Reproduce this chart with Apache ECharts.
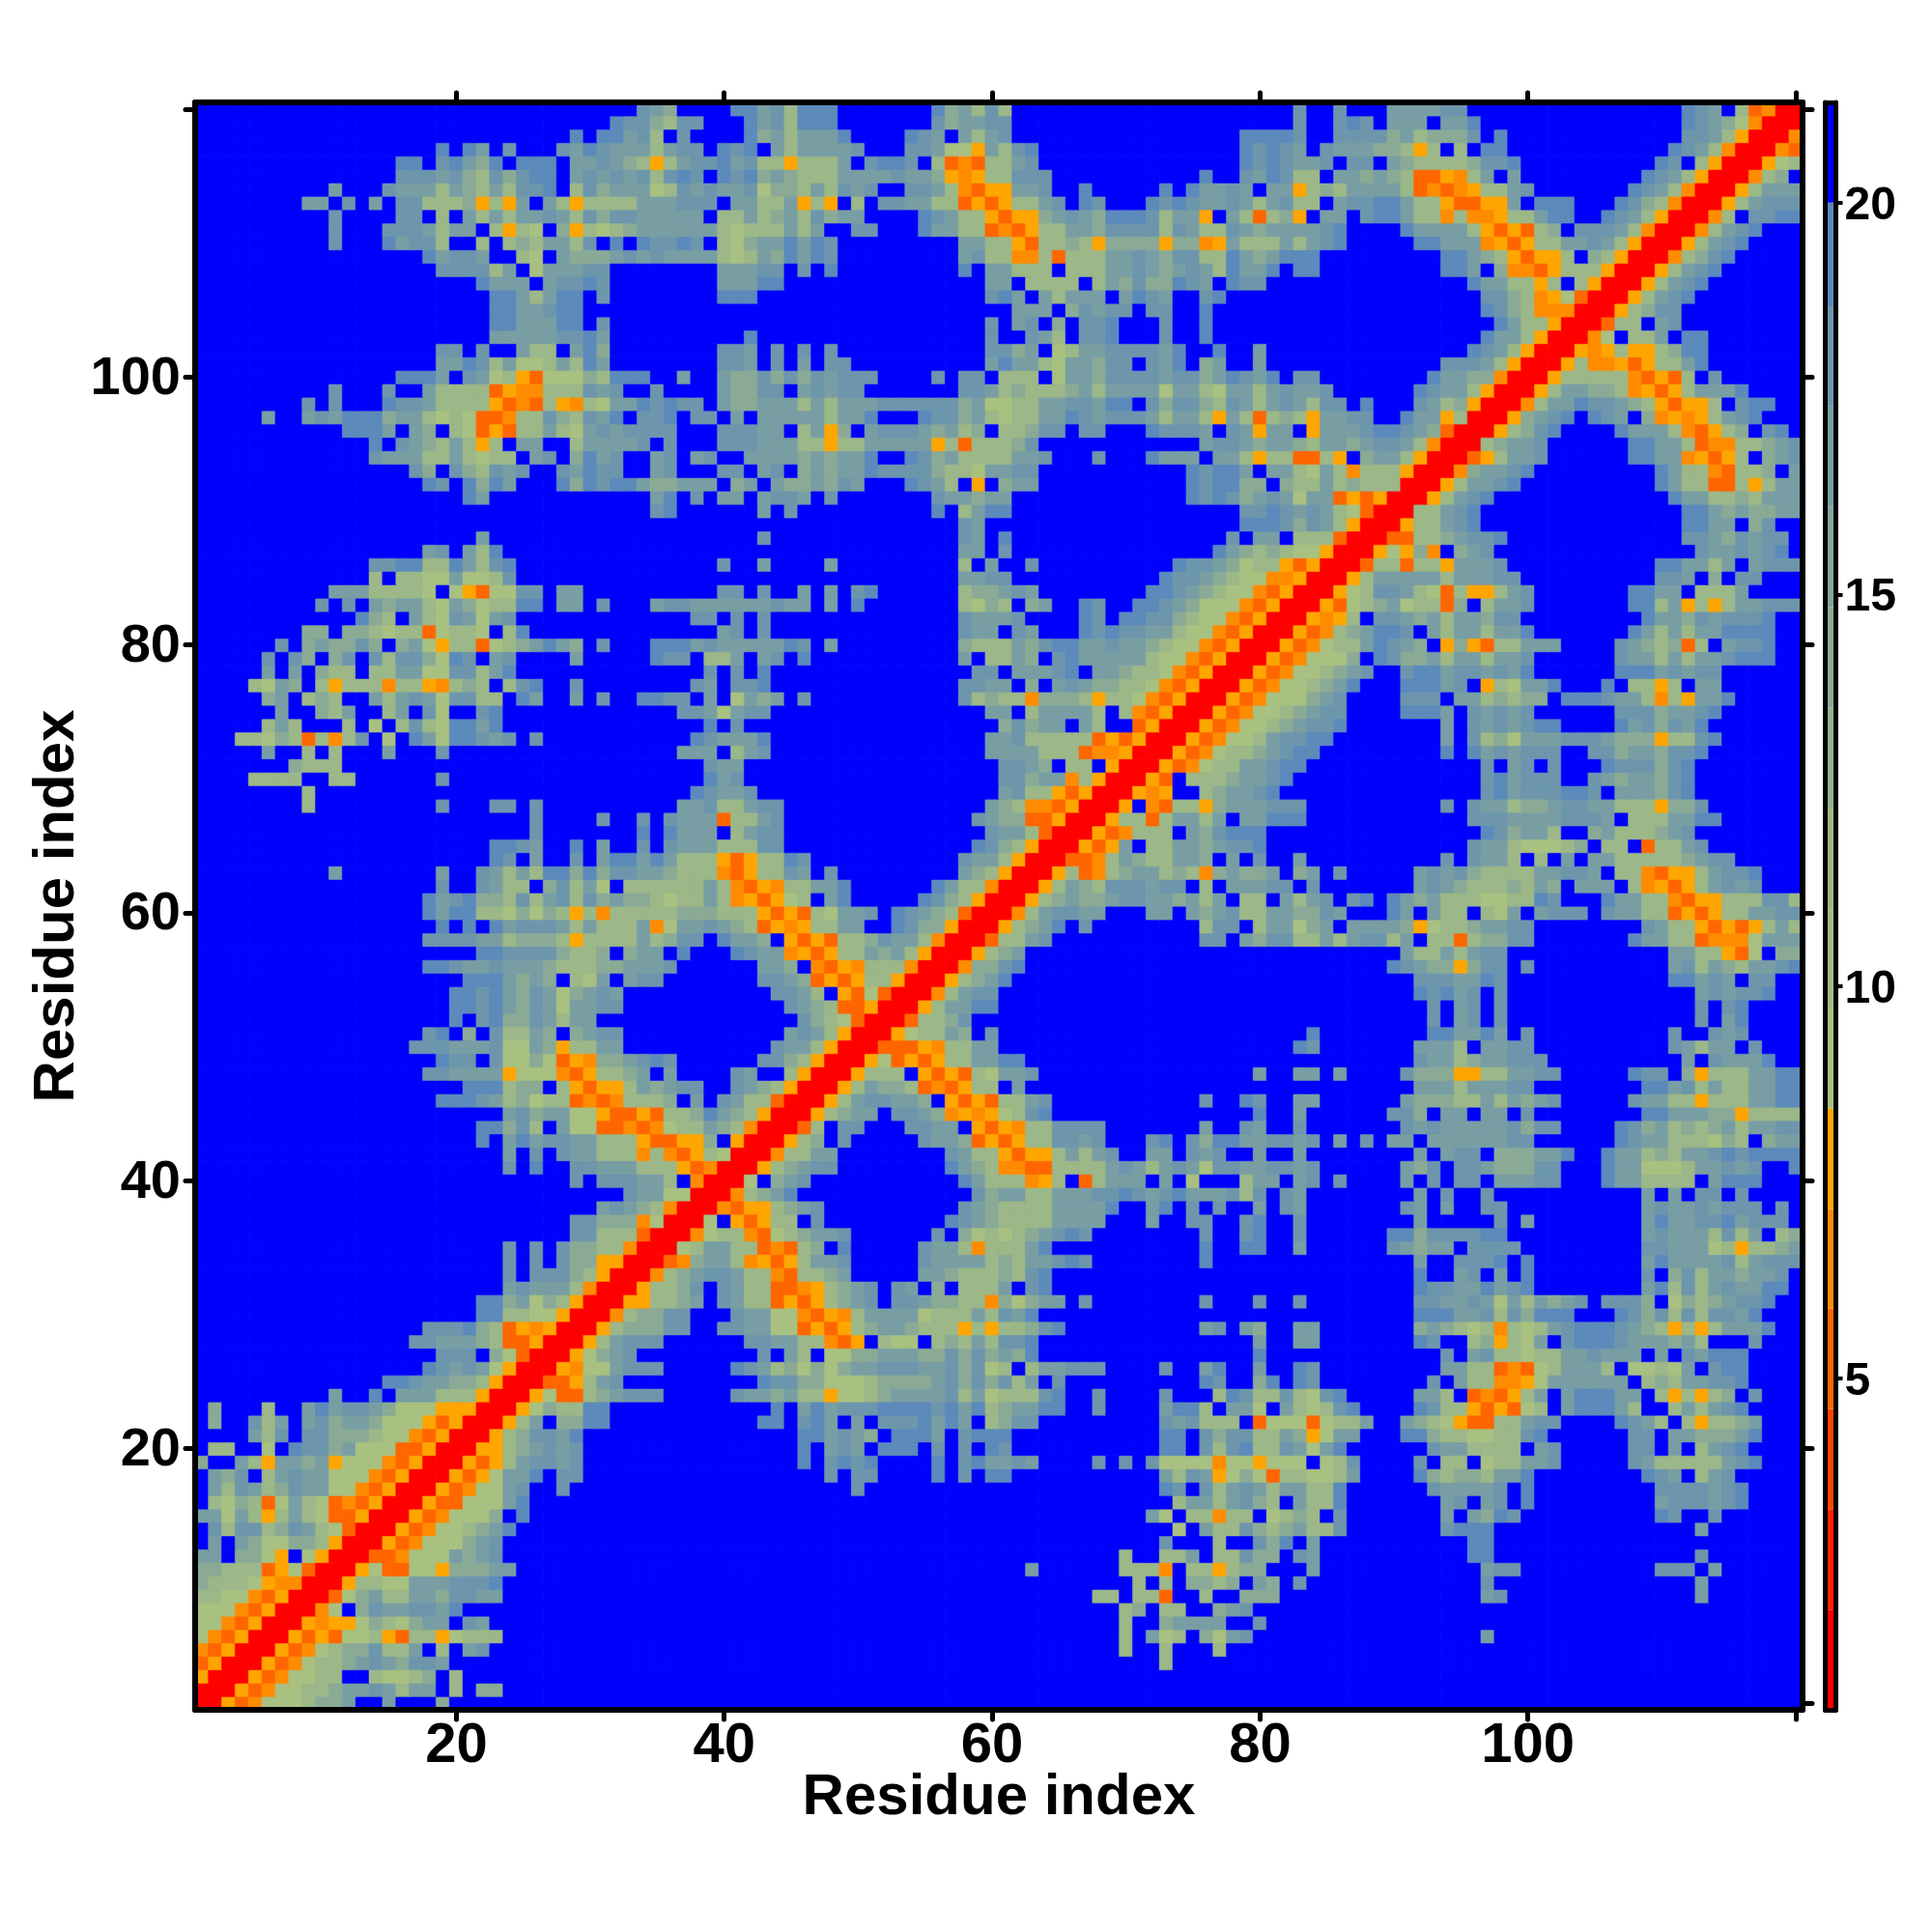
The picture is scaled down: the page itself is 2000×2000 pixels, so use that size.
<!DOCTYPE html>
<html><head><meta charset="utf-8">
<style>html,body{margin:0;padding:0;background:#fff}#c{width:2000px;height:2000px}</style>
<script src="https://cdn.jsdelivr.net/npm/echarts@6/dist/echarts.min.js"></script>
</head><body><div id="c"></div>
<script>
// Colour scale of the reference: 16 steps between these breaks
const levelBreaks=[0.77,2.05,3.33,4.61,5.89,7.16,8.44,9.72,11.0,12.28,13.56,14.84,16.12,17.4,18.68,20.0,21.28];
const levelColors=['#ff0000','#ff2000','#ff4400','#ff6600','#ff8c00','#ffa500','#a8c080','#a3bc84','#9cb788','#94b28e','#8aaa96','#82a59c','#789ea4','#6d96ad','#5c8abb','#0000ff'];
// Reading codes used in the rows below -> colour step
const readingCodes=['0','3','4','5','7','8','9','a','b','c','f'];
const readingSteps=[0,3,4,5,6,8,10,12,13,14,15];
const residues=Array.from({length:120},(_,i)=>String(i+1));
const colorTicks=[5,10,15,20];
const axisTitle='Residue index';
// One string per row (y=1..120): "firstX:codes firstX:codes", upper triangle; unlisted cells are blue
const contactRows=[
"1:00534777899a 15:a 19:9",
"2:0053477889aaba8aa 20:8 22:99",
"3:005347788 14:87789 20:8",
"4:005347889aba9bba 73:8",
"5:005347899b88af8fab 70:8 73:8 77:8",
"6:005353778538857888 70:8 72:a78 76:97ab 97:a",
"7:00545579879aafba 70:8 73:9aaaa 80:b",
"8:0047f9baabbac 70:89 73:88 77:9ab",
"9:00379a88aa9bbaa 68:88 71:883 76:8 79:999 97:ab 113:a",
"10:0058877aaabbbc 71:8 73:8 75:9989 80:a9 83:b 97:b 113:a",
"11:005733775999aa 63:a 70:8884 75:885899 84:a 97:abb 110:bbb 114:a",
"12:00334777a9ab 70:8 73:88a 77:88b99 83:ba 96:cc 113:b",
"13:005347779ab 73:b 77:8 80:b9c 84:a 96:cc",
"14:005347789ac 74:7 76:a88b989a88b 94:bccc 113:a",
"15:005347779fc 72:a7f884 78:88f7898fb 94:afa9cb 110:cb 114:b",
"16:00533777ac 74:8aa8ab98fa88c 94:abfabfc 110:abbbabc",
"17:0053477ab 28:b 50:b 73:cbfb8aba8aa88c 93:baaaabfc 110:bbbbabc",
"18:005357aacfbb 48:b 50:bb 56:c 58:b 60:cc 73:a8ba5797388778a 92:c98998aac 109:cbaf8ab",
"19:005358abbab 46:c 48:bcbc 56:c 58:bc 60:aaba 68:b 70:b 72:b77774775777f78b 92:bf88f788aab 108:ba88888abc",
"20:005589abab 46:c 48:aba 52:ccc 56:b 58:b 60:cb 73:ccfb8bc88ba7ac 93:baa8888fab 108:bbfaf8abc",
"21:00589bbac 46:cc 48:aba9 53:ccca 58:bccc 73:ccfb9bb88a957aa 91:cc9887788bc 108:bbfaa999ac",
"22:0058af99cc 43:cc 46:bcafafbbbcacaf89bb 73:bab888f37773788a 91:a98753388abb 107:cba8f85889a",
"23:0057988cc 44:c 46:acabbbccccbcac89aacc 68:b 73:acc8faa7fa878bc 92:cb88535378faccca8ff8a8abc",
"24:00573389abbb 41:baa9a8857789aaaab8a7888bc 68:b 73:b 77:8cb88b87bc 92:aa8f34358afacccaaf858589 117:b",
"25:003358ab 43:cbb9977789999ab9b9b8afb 76:cb 80:9c 83:cb 93:bfa884457aaaaaaf898aabbc",
"26:005477abbb 41:cba897979aabbbaab9b78f8aabbb 73:b 76:ac 80:a 83:cb 94:aa8834378aaa8f7787afbcc",
"27:00579ab 43:bfa8f7799aaa99b9b9a9c 80:c 94:bfab88788aabaaafafbaccc",
"28:0058abbb 42:bbaa88435f877f898a8bbc 80:a 83:aa 92:cb 96:89587afbcccbaaa9a8 117:b",
"29:0058999bb 40:bbaa77353589aa9888585889bc 76:ab 79:a9 83:aa 92:9a98784878abcccba985858aaac",
"30:004899bb 41:baa7743548aaaa7888a8bac 92:cccaab8b9ccc 107:cb9b8b8bbac",
"31:0055889afba88353589abfbba99884979aa 67:b 76:b 80:b 83:b 92:bbaaba7a8a9ab 106:bbb9f7989abbc",
"32:005889bfba88334589abfbaf9f888afbc 92:cbbaacabc 109:ac8b8abaacc",
"33:00489abba8843889a 55:aa988898bc 92:c 95:ab 98:a 100:c 109:b 111:9b8aa9aab",
"34:00349aa845358aab 55:baaaa898aabcb 76:c 92:a 95:bbbc 100:c 109:acaaaab8abbb",
"35:0078aa8834389fc 55:baa84888ac 76:c 79:cc 83:a 90:ba9aafbbbb 109:bbaaa785889a",
"36:00478843789aab 56:bf978789abcb 76:b 79:bc 83:b 90:cc9bbbbcc 109:abaaa8b8af89",
"37:007f53588fb 57:cba98888aaaa 72:a 75:bb 79:bc 83:b 92:a 98:b 100:a 109:acaabbcabbb",
"38:00435589ab 58:ba98888aaaac 72:ac 75:bfb 80:a 82:ba 91:bafa 97:bb 109:abaababbbfb",
"39:00489ac 59:b9aa88aaabbcbabcaaab8b 82:ba 92:a 94:b 97:b 109:afafbbfb",
"40:007f9ab 58:ca888458f38aaafaf7 79:8aafabfb 91:afbfbbfaaabb 106:caa8888faccc",
"41:00589abb 57:ca9844338888aba8aba7bbaabbab 91:a9bfbba999bb 106:caa7778aabab 120:c",
"42:00488aa 57:ba8853558a8ab 72:aa 75:bab 80:a 83:a 92:afabbf999aac 106:caa898aabcbcccc",
"43:00589fb 55:baa9353588bbab 72:bcfb9ccaabbabfa 88:b 90:aa 93:aaaaaabb 107:cbaa888798f9aa",
"44:0038fbb 54:bbaaf535488bbbb 76:a 79:ba 83:b 91:babaaaaab9bb 107:cb9a8989a8aabb",
"45:00589aa 53:bba9454578bc 80:c 83:a 90:bb9faafaafb 109:ccaaa9958888",
"46:0058abbaa9f535388ab 76:b 79:cb 83:aa 91:a99988a8a9ab 108:baa885888aacc",
"47:0058a998343588fa 92:aaa8aaabb 109:ccab8a88aacc",
"48:005888f535387aab 80:a 83:aa 86:a 91:b9995588aabb 108:cbbf95888aacc",
"49:0057353588aacc 92:baa89aabbb 112:afbaaac",
"50:003335488aaf 83:cb 92:aaa8faabb 111:ba8aafb",
"51:005788a9fb 84:c 93:ccaacafb 111:b 114:bab",
"52:003889b 93:bfabfb 113:bfac",
"53:0058aacc 93:bfabfb 113:bfbc",
"54:0048abb 92:cbcabfb 113:ababbc",
"55:00589ac 92:bbbaacb 111:ccabafbb",
"56:00499bc 90:cba9959bbfb 111:ab8a98aabc",
"57:00589a 91:a88a8abb 111:aa88537f99",
"58:00388ab 76:bb 79:a9bb88a8abb8 91:af883899bb 108:caa8834447aaa",
"59:00589ac 67:b 76:8bbf8aa79afaaaa 91:957889aabb 109:ba88535358a8",
"60:0048abbaa 72:aafa9ab88aa99ba 90:c 91:afa88f87afabbb 106:baa88353588aabb",
"61:00589a99abbaa9a8af88fa8abfbcfca 92:9a8887788cb 106:caa884355888bb8",
"62:0058a98bbbabbf8faaabbfb 92:aba988898a9faaaf845358abab",
"63:00583489aa89849a99af9a 86:b 92:abab98888aabbaf8843558abbc",
"64:003348a988aa9fafb 83:a 94:bfbaa8f8fafaa888889abb",
"65:00535af88aa9abbc 96:baa877789f88f388ab",
"66:00534888fa9bccc 97:cb9aa8ff9a8889ab",
"67:0058838aa8afaaccc 96:bbbaaaabbbaf888aacc",
"68:005f438859aaabbb 94:b 96:baa899abbaa888599b",
"69:00545ff89aabc 97:bcabbbccbfaaa9bc",
"70:0053f8889aabc 97:bcabbbffba9aa9bc",
"71:00534788aabcc 97:bfabfbfffcbbb9bc",
"72:005347889abcc 94:c 96:cababbbffbb9aa9bbc",
"73:00534778abbcc 94:a 96:b897aaabbba999588bc",
"74:005347789abbc 94:a 96:bababcc 107:cab9bac",
"75:005347789abb 91:cccafbabab 107:bbb9aabc",
"76:005347779ab 91:bbbfaa89899fcccbaa8485aac",
"77:005347789ac 91:cccabf587aac 106:cf8858faa",
"78:005347789ab 91:bccabbabac 107:cccababb",
"79:005347779fcb 91:99a8aa8aab 107:baa8a8aabccc",
"80:00534788acb 91:a9f595388aaa 107:ba98938fabbc",
"81:0053489acc 91:bfa8aa8aac 108:ca8a8aacccc",
"82:005458fbb 91:a9a8aa9bbf 109:caa9babbbc",
"83:0053789a 91:78839f8aab 108:cc8a5858aabbb",
"84:00578bb 91:a8738558ab 108:ccaaf888af",
"85:0058aa 91:aaa8aaabb 110:bbaf9fbb",
"86:00388 91:3885aaab 110:ccaa8afabbb",
"87:0057 91:594f9ab 113:baababc",
"88:003 91:3889abbc 112:bba9babb",
"89:00588abc 112:ccaaf9b",
"90:0088abc 112:cca9a99aa",
"91:0058abc 111:caa8898aaa",
"92:0058aabc 110:ca8833858aa",
"93:0049aabc 110:ca8843889fa",
"94:00358aab 108:ccaa45358f9ab",
"95:0089aab 108:ccaa8344889ab",
"96:00589bc 107:caaa843589fbc",
"97:0059abc 105:cbaf945458abc",
"98:0048aacbba9853558fbcc",
"99:0058aa99845358aaac",
"100:0058888843538fb",
"101:00584453588ac",
"102:0054585589cc",
"103:0047f88afcc",
"104:00388fab",
"105:00589bb",
"106:0058abc",
"107:0058abc",
"108:0058abc",
"109:00489bc",
"110:0058abc",
"111:0048abc",
"112:0048fbbcc",
"113:0058abbb",
"114:0058aaa",
"115:00489f",
"116:00578",
"117:0043",
"118:004",
"119:00",
"120:0"
];

function stepValue(s){return (levelBreaks[s]+levelBreaks[s+1])/2;}
const cells=residues.map(()=>residues.map(()=>15));
contactRows.forEach((row,r)=>{
  row.trim().split(/\s+/).forEach(seg=>{
    const [start,codes]=seg.split(':');
    [...codes].forEach((ch,k)=>{
      const x=Number(start)-1+k; const idx=readingCodes.indexOf(ch);
      if(x<120&&idx>=0){cells[r][x]=readingSteps[idx];cells[x][r]=readingSteps[idx];}
    });
  });
});
const heatData=[];
for(let y=0;y<120;y++)for(let x=0;x<120;x++){
  const s=cells[y][x];
  // a hairline stroke in the cell's own colour closes the seams between cells
  heatData.push({value:[x,y,stepValue(s)],itemStyle:{borderColor:levelColors[s],borderWidth:0.5}});
}

const font='"Liberation Sans"';
const black='#000';
const every20=(i,v)=>Number(v)%20===0;
const labelled=(i,v)=>Number(v)%20===0&&Number(v)<120;
const frame={onZero:false,lineStyle:{color:black,width:6,cap:'round'}};
const tickStyle={show:true,alignWithLabel:true,length:10,interval:every20,lineStyle:{color:black,width:5,cap:'round'}};
const chart=echarts.init(document.getElementById('c'),null,{renderer:'canvas'});
const barSeries=levelColors.map((c,i)=>({
  type:'bar',xAxisIndex:2,yAxisIndex:2,stack:'scale',barWidth:'100%',silent:true,
  data:[i===0?levelBreaks[1]:levelBreaks[i+1]-levelBreaks[i]],itemStyle:{color:c},z:1
}));
chart.setOption({
  animation:false,
  backgroundColor:'#fff',
  grid:[
    {left:202,top:106,width:1664,height:1664},
    {left:1889.5,top:106,width:11,height:1664}
  ],
  visualMap:{show:false,type:'piecewise',dimension:2,seriesIndex:0,
    pieces:levelColors.map((c,i)=>({gte:levelBreaks[i],lt:levelBreaks[i+1],color:c}))},
  xAxis:[
    {type:'category',gridIndex:0,data:residues,position:'bottom',z:5,name:axisTitle,nameLocation:'middle',nameGap:61,nameMoveOverlap:false,
     nameTextStyle:{fontFamily:font,fontWeight:'bold',fontSize:60,color:black},
     axisLine:frame,axisTick:tickStyle,
     axisLabel:{interval:labelled,fontFamily:font,fontWeight:'bold',fontSize:58,color:black,margin:9},splitLine:{show:false}},
    {type:'category',gridIndex:0,data:residues,position:'top',z:5,axisLine:frame,axisTick:tickStyle,axisLabel:{show:false},splitLine:{show:false}},
    {type:'category',gridIndex:1,data:['scale'],position:'bottom',z:5,axisLine:{onZero:false,lineStyle:{color:black,width:5,cap:'round'}},axisTick:{show:false},axisLabel:{show:false}},
    {type:'category',gridIndex:1,data:['scale'],position:'top',z:5,axisLine:{onZero:false,lineStyle:{color:black,width:5,cap:'round'}},axisTick:{show:false},axisLabel:{show:false}}
  ],
  yAxis:[
    {type:'category',gridIndex:0,data:residues,position:'left',z:5,name:axisTitle,nameLocation:'middle',nameGap:113,nameRotate:90,nameMoveOverlap:false,
     nameTextStyle:{fontFamily:font,fontWeight:'bold',fontSize:60,color:black},
     axisLine:frame,axisTick:tickStyle,
     axisLabel:{interval:labelled,color:black,margin:15,formatter:v=>'{t|'+v+'}',
       rich:{t:{fontFamily:font,fontWeight:'bold',fontSize:56,color:black,padding:[4,0,0,0]}}},splitLine:{show:false}},
    {type:'category',gridIndex:0,data:residues,position:'right',z:5,axisLine:frame,
     axisTick:{...tickStyle,interval:(i,v)=>Number(v)%20===0||Number(v)===1},axisLabel:{show:false},splitLine:{show:false}},
    {type:'value',gridIndex:1,position:'right',z:5,min:levelBreaks[0],max:levelBreaks[16],
     axisLine:{show:true,onZero:false,lineStyle:{color:black,width:5,cap:'round'}},
     axisTick:{show:true,length:7,customValues:colorTicks,lineStyle:{color:black,width:4}},
     axisLabel:{customValues:colorTicks,color:black,margin:9,formatter:v=>'{t|'+Math.round(v)+'}',
       rich:{t:{fontFamily:font,fontWeight:'bold',fontSize:48,color:black,padding:[7,0,0,0]}}},
     splitLine:{show:false}},
    {type:'value',gridIndex:1,position:'left',z:5,min:levelBreaks[0],max:levelBreaks[16],
     axisLine:{show:true,onZero:false,lineStyle:{color:black,width:5,cap:'round'}},axisTick:{show:false},axisLabel:{show:false},splitLine:{show:false}}
  ],
  series:[
    {type:'heatmap',xAxisIndex:0,yAxisIndex:0,data:heatData,progressive:0,silent:true,emphasis:{disabled:true}},
    ...barSeries
  ]
});
</script></body></html>
